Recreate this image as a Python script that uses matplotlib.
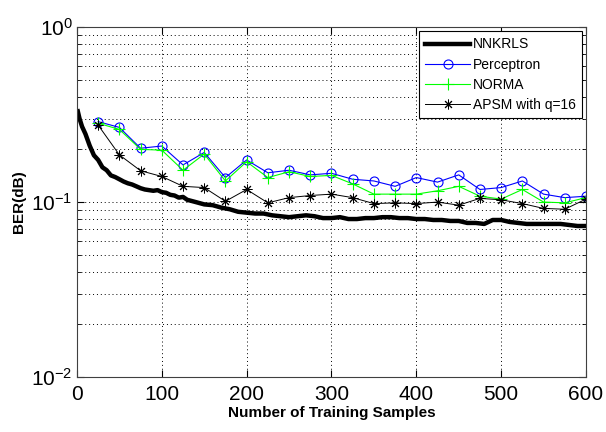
import matplotlib
matplotlib.use("Agg")
from matplotlib import pyplot as plt

plt.rcParams['font.family'] = ['Liberation Sans', 'DejaVu Sans']
plt.rcParams['mathtext.default'] = 'regular'

# NNKRLS curve
nnkrls_x = [1, 3, 6, 10, 15, 20, 25, 30, 35, 40, 45, 50, 55, 60, 65, 70, 75, 80, 85,
            90, 95, 100, 105, 110, 115, 120, 125, 130, 140, 150, 160, 170, 180, 190,
            200, 210, 220, 230, 240, 250, 260, 270, 280, 290, 300, 310, 320, 330,
            340, 350, 360, 370, 380, 390, 400, 410, 420, 430, 440, 450, 460, 470,
            480, 490, 500, 510, 520, 530, 540, 550, 560, 570, 580, 590, 600]
nnkrls_y = [0.33, 0.30, 0.27, 0.245, 0.21, 0.185, 0.174, 0.158, 0.152, 0.142, 0.139,
            0.135, 0.131, 0.128, 0.126, 0.123, 0.120, 0.118, 0.117, 0.116, 0.117,
            0.114, 0.113, 0.110, 0.109, 0.106, 0.107, 0.103, 0.100, 0.097, 0.096,
            0.093, 0.091, 0.088, 0.087, 0.086, 0.086, 0.084, 0.083, 0.082, 0.083,
            0.084, 0.083, 0.081, 0.081, 0.082, 0.080, 0.080, 0.081, 0.081, 0.082,
            0.082, 0.081, 0.081, 0.080, 0.080, 0.079, 0.079, 0.078, 0.078, 0.076,
            0.076, 0.075, 0.079, 0.079, 0.077, 0.076, 0.075, 0.075, 0.075, 0.075,
            0.075, 0.074, 0.073, 0.073]

# marker curves, every 25 samples
samples = [25, 50, 75, 100, 125, 150, 175, 200, 225, 250, 275, 300,
           325, 350, 375, 400, 425, 450, 475, 500, 525, 550, 575, 600]
perceptron = [0.288, 0.267, 0.203, 0.209, 0.163, 0.192, 0.138, 0.174, 0.147, 0.152,
              0.143, 0.146, 0.135, 0.132, 0.123, 0.138, 0.130, 0.143, 0.118, 0.121,
              0.132, 0.111, 0.106, 0.108]
norma = [0.282, 0.260, 0.200, 0.198, 0.152, 0.188, 0.132, 0.170, 0.138, 0.149,
         0.140, 0.142, 0.127, 0.111, 0.111, 0.111, 0.116, 0.123, 0.108, 0.104,
         0.118, 0.100, 0.099, 0.106]
apsm = [0.275, 0.186, 0.151, 0.140, 0.123, 0.121, 0.101, 0.118, 0.099, 0.106,
        0.109, 0.111, 0.106, 0.098, 0.099, 0.098, 0.100, 0.096, 0.105, 0.103,
        0.098, 0.092, 0.091, 0.104]

fig = plt.figure(figsize=(6.06, 4.32), dpi=100)
ax = fig.add_axes([0.127, 0.127, 0.84, 0.8105])

ax.semilogy(nnkrls_x, nnkrls_y, color='black', linewidth=3.2, label='NNKRLS')
ax.semilogy(samples, perceptron, color='#0000ff', linewidth=0.8, marker='o',
            markersize=6.5, markerfacecolor='none', markeredgewidth=0.8, label='Perceptron')
ax.semilogy(samples, norma, color='#00ff00', linewidth=0.8, marker='+',
            markersize=8, markeredgewidth=0.8, label='NORMA')
ax.semilogy(samples, apsm, color='black', linewidth=0.7, marker=(8, 2, 0),
            markersize=7, markeredgewidth=0.7, label='APSM with q=16')

ax.set_xlim(0, 600)
ax.set_ylim(0.01, 1)
ax.set_xticks(range(0, 601, 100))
ax.grid(True, which='major', linestyle=(0, (1, 3)), color='black', linewidth=0.7)
ax.grid(True, which='minor', axis='y', linestyle=(0, (1, 3)), color='black', linewidth=0.7)
ax.tick_params(which='both', direction='in', top=True, right=True, labelsize=15)
ax.tick_params(axis='x', pad=6)
ax.tick_params(axis='y', pad=3)
ax.tick_params(which='major', length=5)
ax.tick_params(which='minor', length=3)
for s in ax.spines.values():
    s.set_linewidth(0.8)
    s.set_color('#404040')

ax.set_xlabel('Number of Training Samples', fontsize=11, fontweight='bold', labelpad=1)
ax.set_ylabel('BER(dB)', fontsize=11, fontweight='bold')
ax.yaxis.set_label_coords(-0.1, 0.5)

leg = ax.legend(loc='upper right', fontsize=10, fancybox=False, framealpha=1,
                edgecolor='black', handlelength=3.2, labelspacing=0.45,
                borderaxespad=0.3, handletextpad=0.2, borderpad=0.45)
leg.get_frame().set_linewidth(0.8)

fig.savefig('out.png', dpi=100)
